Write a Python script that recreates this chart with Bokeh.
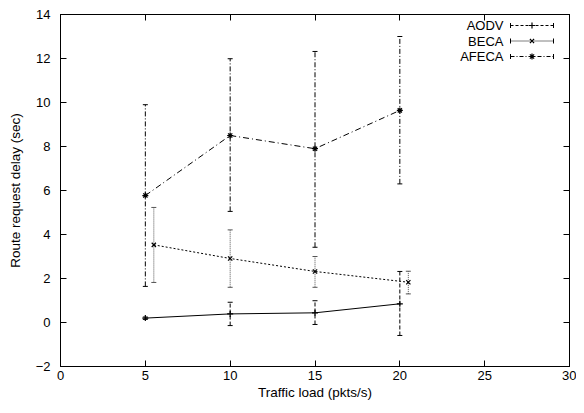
from bokeh.plotting import figure
from bokeh.models import (ColumnDataSource, Whisker, TeeHead, LinearAxis, Range1d,
                          FixedTicker, Label)
from bokeh.embed import file_html
from bokeh.resources import INLINE

# ---- data ----
aodv_x = [5, 10, 15, 20]
aodv_y = [0.2, 0.39, 0.44, 0.85]
aodv_lo = [0.14, -0.14, -0.09, -0.59]
aodv_hi = [0.25, 0.92, 0.99, 2.32]

beca_x = [5.5, 10, 15, 20.5]
beca_y = [3.53, 2.91, 2.32, 1.83]
beca_lo = [1.82, 1.6, 1.6, 1.3]
beca_hi = [5.23, 4.21, 3.0, 2.33]

afeca_x = [5, 10, 15, 20]
afeca_y = [5.77, 8.5, 7.9, 9.64]
afeca_lo = [1.64, 5.05, 3.42, 6.3]
afeca_hi = [9.9, 11.99, 12.32, 13.0]

series_names = ["AODV", "BECA", "AFECA"]
x_ticks = [0, 5, 10, 15, 20, 25, 30]
y_ticks = [-2, 0, 2, 4, 6, 8, 10, 12, 14]

FONT = "Liberation Sans"
W, H = 576, 405
BL, BR, BT, BB = 60, 7, 14, 39
FW, FH = W - BL - BR, H - BT - BB

p = figure(width=W, height=H, output_backend="svg", toolbar_location=None,
           x_range=Range1d(0, 30), y_range=Range1d(-2, 14),
           min_border_left=BL, min_border_right=BR, min_border_top=BT, min_border_bottom=BB)
# pixel-space ranges used only to place the key (legend)
p.extra_x_ranges = {"key": Range1d(0, FW)}
p.extra_y_ranges = {"key": Range1d(0, FH)}
p.xgrid.visible = False
p.ygrid.visible = False
p.outline_line_color = "black"
p.outline_line_width = 1

for ax in (p.xaxis[0], p.yaxis[0]):
    ax.major_tick_in = 6
    ax.major_tick_out = 0
    ax.minor_tick_in = 0
    ax.minor_tick_out = 0
    ax.axis_line_color = "black"
    ax.major_tick_line_color = "black"
    ax.major_label_text_font = FONT
    ax.major_label_text_font_size = "13px"
    ax.major_label_text_color = "black"
    ax.axis_label_text_font = FONT
    ax.axis_label_text_font_size = "13.5px"
    ax.axis_label_text_font_style = "normal"
    ax.axis_label_text_color = "black"
p.xaxis[0].ticker = FixedTicker(ticks=x_ticks)
p.yaxis[0].ticker = FixedTicker(ticks=y_ticks)
p.xaxis[0].axis_label = "Traffic load (pkts/s)"
p.yaxis[0].axis_label = "Route request delay (sec)"
p.xaxis[0].axis_label_standoff = 2
p.yaxis[0].axis_label_standoff = 10
p.xaxis[0].major_label_standoff = 4
p.yaxis[0].major_label_standoff = 10

# mirrored tick axes (no labels)
top = LinearAxis(ticker=FixedTicker(ticks=x_ticks), major_tick_in=6, major_tick_out=0,
                 minor_tick_in=0, minor_tick_out=0, major_label_text_color=None,
                 major_label_standoff=0, axis_line_color="black")
right = LinearAxis(ticker=FixedTicker(ticks=y_ticks), major_tick_in=6, major_tick_out=0,
                   minor_tick_in=0, minor_tick_out=0, major_label_text_color=None,
                   major_label_standoff=0, axis_line_color="black")
p.add_layout(top, "above")
p.add_layout(right, "right")

styles = [
    (aodv_x, aodv_y, aodv_lo, aodv_hi, "solid", "4 2", "black", "cross"),
    (beca_x, beca_y, beca_lo, beca_hi, "2 2", "1 1", "#555555", "x"),
    (afeca_x, afeca_y, afeca_lo, afeca_hi, "6 3 1 3", "5 2 1 2", "black", "asterisk"),
]
legend_dash = ["3 2", "1 1", "4 2 1 2"]

# key layout in frame pixels
key_text_x = 443
key_x0, key_x1 = 450, 493
key_rows = [341, 325.5, 310]

for name, ld, ky, (xs, ys, lo, hi, dash, edash, ecol, mk) in zip(
        series_names, legend_dash, key_rows, styles):
    src = ColumnDataSource(dict(x=xs, y=ys, lo=lo, hi=hi))
    w = Whisker(source=src, base="x", lower="lo", upper="hi", dimension="height",
                line_color=ecol, line_width=1, line_dash=edash,
                upper_head=TeeHead(size=5, line_color=ecol, line_width=1),
                lower_head=TeeHead(size=5, line_color=ecol, line_width=1))
    p.add_layout(w)
    p.line("x", "y", source=src, line_color="black", line_width=1, line_dash=dash)
    p.scatter("x", "y", source=src, marker=mk, size=6, line_color="black", line_width=1.2)

    # key sample (gnuplot style: text left, sample right, with end ticks)
    ksrc = ColumnDataSource(dict(x0=[key_x0], x1=[key_x1], y=[ky],
                                 xm=[(key_x0 + key_x1) / 2]))
    p.segment(x0="x0", y0="y", x1="x1", y1="y", source=ksrc, line_color="black",
              line_width=1, line_dash=ld, x_range_name="key", y_range_name="key")
    for end in ("x0", "x1"):
        p.segment(x0=end, x1=end, y0=ky - 2.5, y1=ky + 2.5, source=ksrc, line_color="black",
                  line_width=1, x_range_name="key", y_range_name="key")
    p.scatter("xm", "y", source=ksrc, marker=mk, size=6, line_color="black", line_width=1.2,
              x_range_name="key", y_range_name="key")
    p.add_layout(Label(x=key_text_x, y=ky, x_range_name="key", y_range_name="key",
                       text=name, text_align="right", text_baseline="middle",
                       text_font=FONT, text_font_size="13px", text_color="black"))

open("out.html", "w").write(file_html(p, INLINE))
